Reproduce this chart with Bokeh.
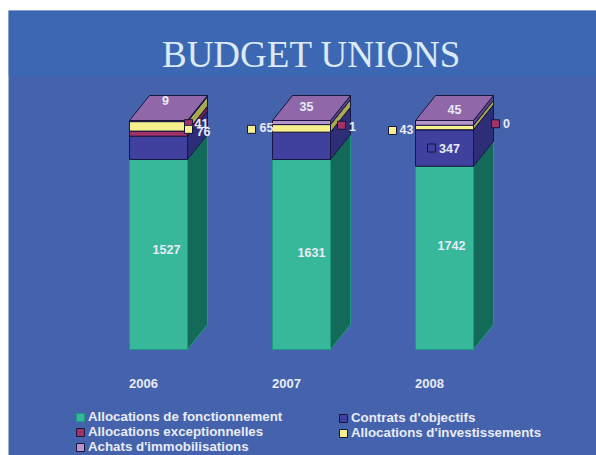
from bokeh.plotting import figure
from bokeh.models import Legend, LegendItem
from bokeh.core.properties import value
from bokeh.embed import file_html
from bokeh.resources import INLINE

# ---- data ----
years = ["2006", "2007", "2008"]
fonctionnement = [1527, 1631, 1742]
contrats = [187, 234, 347]
exceptionnelles = [41, 1, 0]
investissements = [76, 65, 43]
immobilisations = [9, 35, 45]
title_text = "BUDGET UNIONS"
series_names = ["Allocations de fonctionnement", "Contrats d'objectifs",
                "Allocations exceptionnelles", "Allocations d'investissements",
                "Achats d'immobilisations"]

# ---- styles / layout ----
front = ["#38b89b", "#40409e", "#a03268", "#f6f08c", "#b794cc"]
side = ["#146a58", "#2d2d78", "#6e2050", "#a8a84e", "#5c4488"]
edge = ["#1f9a80", "#16163f", "#16163f", "#16163f", "#16163f"]
top_face = "#9067a9"
text_c = "#e8ebf6"
W, H = 596, 455
PX_X, PX_Y = 1 / 143, 1 / 229           # px to data units (shares of the 100 % stack)
BAR_SHIFT, HALF = 15 * PX_X, 29 * PX_X  # bars sit right of their tick, as in the 3D original
DX, DY = 20 * PX_X, 25 * PX_Y
# label layout per (year, series): text offset and optional marker offset, px from segment centre
layout = {
    (0, 0): ((8, -5), None),
    (0, 2): ((43, -10), (30, -10)),
    (0, 3): ((45, 5), (30, 3)),
    (0, 4): ((7, -21), None),
    (1, 0): ((10, -2), None),
    (1, 2): ((51, -6), (40, -7)),
    (1, 3): ((-35, -1), (-50, 1)),
    (1, 4): ((5, -16), None),
    (2, 0): ((7, -12), None),
    (2, 1): ((5, 0), (-13, 0)),
    (2, 2): ((62, -6), (51, -6)),
    (2, 3): ((-38, 2), (-52, 3)),
    (2, 4): ((10, -13), None),
}


def sx(px):
    return (px - 143) * PX_X


def sy(px):
    return (349 - px) * PX_Y


p = figure(width=W, height=H, x_range=(sx(8), sx(596)), y_range=(sy(455), sy(10)),
           output_backend="svg", toolbar_location=None,
           min_border_left=8, min_border_right=0, min_border_top=10, min_border_bottom=0,
           background_fill_color="#4563ac", border_fill_color="#ffffff",
           outline_line_color=None, x_axis_type=None, y_axis_type=None)
p.grid.visible = False

# darker title band
p.quad(left=sx(8), right=sx(596), bottom=sy(75), top=sy(10), fill_color="#3c68b3", line_color=None)

p.text([sx(311)], [sy(54)], text=[title_text], text_font=value("Liberation Serif"),
       text_font_size="37px", text_color="#dce9f6", text_align="center", text_baseline="middle")

# year labels under the bars
p.text(list(range(len(years))), [sy(383)] * len(years), text=years, text_color=text_c,
       text_align="center", text_baseline="middle", text_font=value("Liberation Sans"),
       text_font_style="bold", text_font_size="13px")

stack = [fonctionnement, contrats, exceptionnelles, investissements, immobilisations]
totals = [sum(s[i] for s in stack) for i in range(len(years))]
fronts = []
texts = {"x": [], "y": [], "t": []}
marks = {"x": [], "y": [], "c": []}
cum = [0, 0, 0]
for k, s in enumerate(stack):
    fx, fy, sx_, sy_ = [], [], [], []
    for i, v in enumerate(s):
        lo = cum[i] / totals[i]
        hi = (cum[i] + v) / totals[i]
        c = i + BAR_SHIFT
        fx.append([c - HALF, c + HALF, c + HALF, c - HALF])
        fy.append([lo, lo, hi, hi])
        sx_.append([c + HALF, c + HALF + DX, c + HALF + DX, c + HALF])
        sy_.append([lo, lo + DY, hi + DY, hi])
        if (i, k) in layout:
            (tx, ty), m = layout[(i, k)]
            mid = (lo + hi) / 2
            texts["x"].append(c + tx * PX_X)
            texts["y"].append(mid - ty * PX_Y)
            texts["t"].append(str(v))
            if m:
                marks["x"].append(c + m[0] * PX_X)
                marks["y"].append(mid - m[1] * PX_Y)
                marks["c"].append(front[k])
        cum[i] += v
    p.patches(sx_, sy_, fill_color=side[k], line_color=edge[k], line_width=1)
    fronts.append(p.patches(fx, fy, fill_color=front[k], line_color=edge[k], line_width=1))

tx_, ty_ = [], []
for i in range(len(years)):
    c = i + BAR_SHIFT
    tx_.append([c - HALF, c + HALF, c + HALF + DX, c - HALF + DX])
    ty_.append([1, 1, 1 + DY, 1 + DY])
p.patches(tx_, ty_, fill_color=top_face, line_color=edge[4], line_width=1)

p.scatter(marks["x"], marks["y"], marker="square", size=8, fill_color=marks["c"],
          line_color="#16163f", line_width=1)
p.text(texts["x"], texts["y"], text=texts["t"], text_color=text_c, text_align="center",
       text_baseline="middle", text_font=value("Liberation Sans"), text_font_style="bold",
       text_font_size="12.5px")


def make_legend(idx, loc):
    lg = Legend(items=[LegendItem(label=series_names[j], renderers=[fronts[j]]) for j in idx],
                location=loc, background_fill_alpha=0, border_line_color=None,
                padding=0, margin=0, spacing=0, glyph_width=10, glyph_height=10,
                label_standoff=3, label_height=14, label_text_color=text_c,
                label_text_font="Liberation Sans", label_text_font_style="bold",
                label_text_font_size="13.3px")
    p.add_layout(lg)


make_legend([0, 2, 4], (67, 1))
make_legend([1, 3], (330, 15))

open("out.html", "w").write(file_html(p, INLINE))
